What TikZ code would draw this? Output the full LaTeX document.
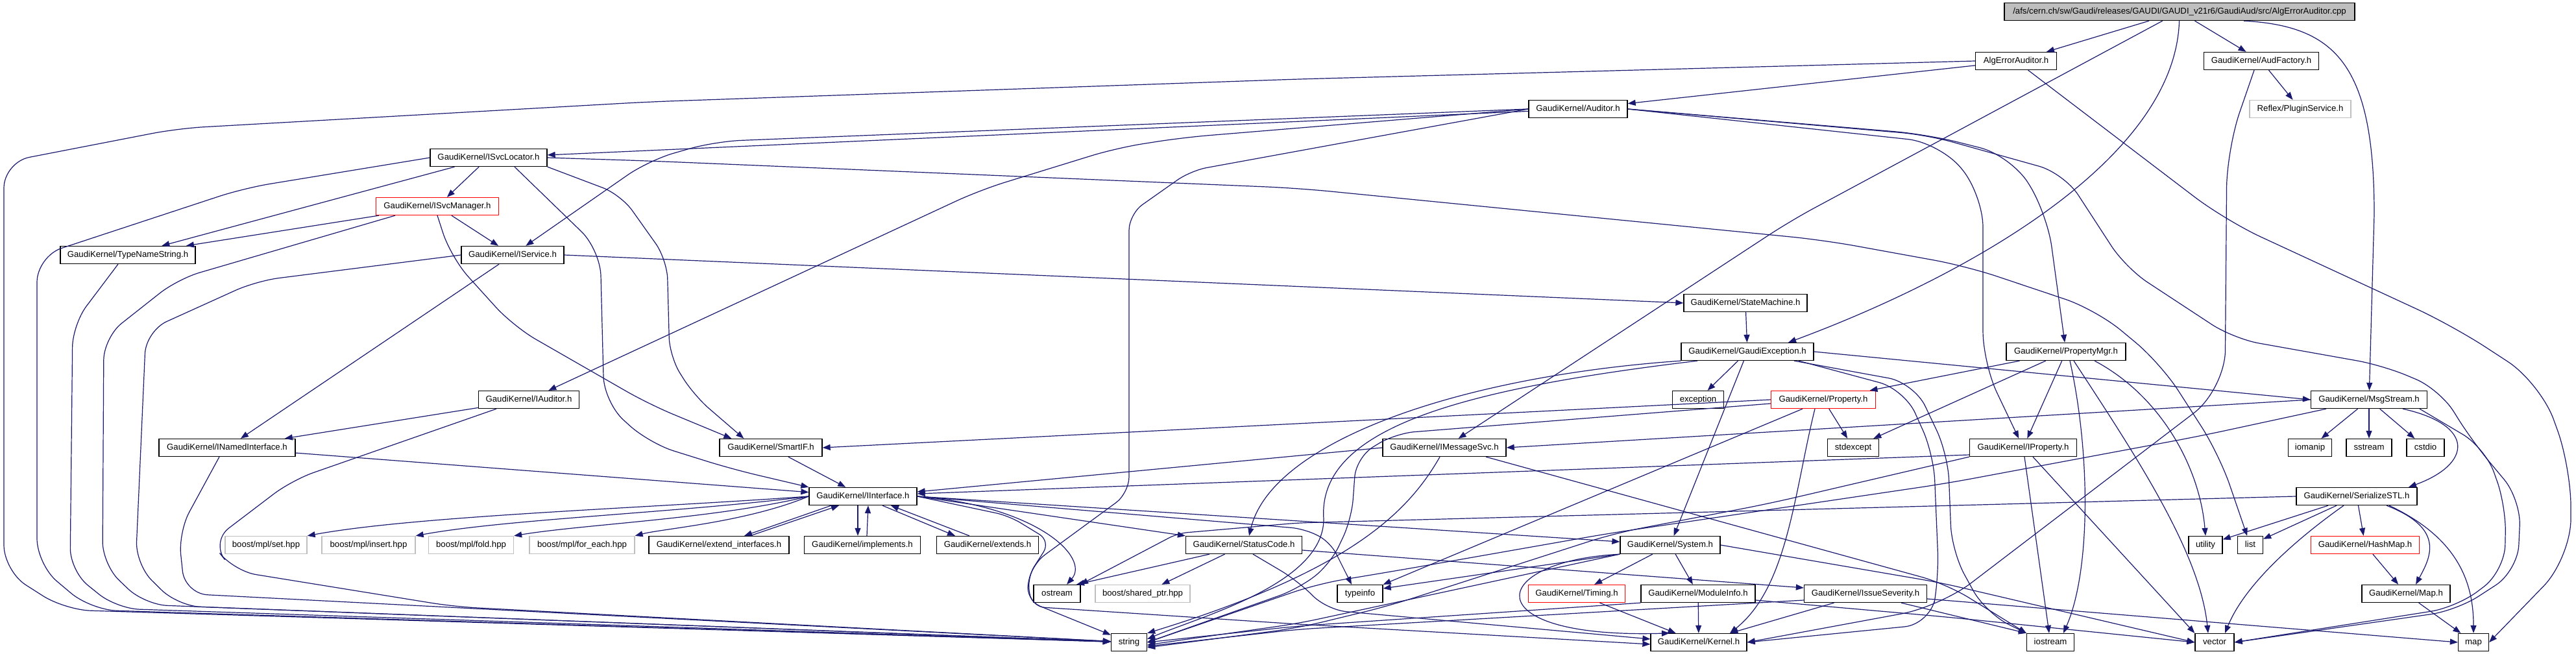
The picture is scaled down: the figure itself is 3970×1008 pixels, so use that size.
\documentclass[tikz,border=0pt]{standalone}
\usepackage{fontspec}
\newfontfamily\doxfont{Liberation Sans}
\usetikzlibrary{arrows.meta}
\definecolor{edgeblue}{RGB}{25,25,112}
\definecolor{extgray}{RGB}{191,191,191}

\begin{document}
\begin{tikzpicture}[x=1pt,y=-1pt,
 box/.style={draw,line width=1.3pt,fill=white,minimum height=27pt,inner xsep=2pt,inner ysep=0pt,
   text height=9.5pt,text depth=2.8pt,font=\doxfont\fontsize{13.2pt}{15pt}\selectfont},
 extbox/.style={box,draw=extgray},
 cutbox/.style={box,draw=red},
 rootbox/.style={box,fill=extgray},
 dep/.style={draw=edgeblue,line width=1.2pt,-{Triangle[length=12pt,width=9pt]}}]
\useasboundingbox (0,0) rectangle (3970,1008);

% files
\node[rootbox,minimum width=540pt] (root) at (3359,18) {/afs/cern.ch/sw/Gaudi/releases/GAUDI/GAUDI\_v21r6/GaudiAud/src/AlgErrorAuditor.cpp};
\node[box,minimum width=125pt] (aea) at (3107,94) {AlgErrorAuditor.h};
\node[box,minimum width=177pt] (audf) at (3485,94) {GaudiKernel/AudFactory.h};
\node[extbox,minimum width=156pt] (refl) at (3545,168) {Reflex/PluginService.h};
\node[box,minimum width=152pt] (aud) at (2432,168) {GaudiKernel/Auditor.h};
\node[box,minimum width=180pt] (svcloc) at (753,243) {GaudiKernel/ISvcLocator.h};
\node[cutbox,minimum width=189pt] (svcmgr) at (674,318) {GaudiKernel/ISvcManager.h};
\node[box,minimum width=208pt] (tns) at (197,393) {GaudiKernel/TypeNameString.h};
\node[box,minimum width=158pt] (isvc) at (790,393) {GaudiKernel/IService.h};
\node[box,minimum width=190pt] (sm) at (2690,467) {GaudiKernel/StateMachine.h};
\node[box,minimum width=204pt] (gexc) at (2693,542) {GaudiKernel/GaudiException.h};
\node[box,minimum width=184pt] (pmgr) at (3184,542) {GaudiKernel/PropertyMgr.h};
\node[box,minimum width=155pt] (iaud) at (815,616) {GaudiKernel/IAuditor.h};
\node[box,minimum width=79pt] (exc) at (2617,616) {exception};
\node[cutbox,minimum width=161pt] (prop) at (2810,616) {GaudiKernel/Property.h};
\node[box,minimum width=179pt] (msgs) at (3651,616) {GaudiKernel/MsgStream.h};
\node[box,minimum width=210pt] (inamed) at (350,690) {GaudiKernel/INamedInterface.h};
\node[box,minimum width=158pt] (smartif) at (1188,690) {GaudiKernel/SmartIF.h};
\node[box,minimum width=190pt] (imsg) at (2226,690) {GaudiKernel/IMessageSvc.h};
\node[box,minimum width=79pt] (stdexc) at (2856,690) {stdexcept};
\node[box,minimum width=165pt] (iprop) at (3118,690) {GaudiKernel/IProperty.h};
\node[box,minimum width=67pt] (iomanip) at (3560,690) {iomanip};
\node[box,minimum width=70pt] (sstr) at (3651,690) {sstream};
\node[box,minimum width=58pt] (cstdio) at (3738,690) {cstdio};
\node[box,minimum width=166pt] (iif) at (1330,765) {GaudiKernel/IInterface.h};
\node[box,minimum width=186pt] (ser) at (3632,765) {GaudiKernel/SerializeSTL.h};
\node[extbox,minimum width=126pt] (mplset) at (410,840) {boost/mpl/set.hpp};
\node[extbox,minimum width=144pt] (mplins) at (568,840) {boost/mpl/insert.hpp};
\node[extbox,minimum width=131pt] (mplfold) at (726,840) {boost/mpl/fold.hpp};
\node[extbox,minimum width=162pt] (mplfe) at (897,840) {boost/mpl/for\_each.hpp};
\node[box,minimum width=216pt] (extif) at (1108,840) {GaudiKernel/extend\_interfaces.h};
\node[box,minimum width=179pt] (impl) at (1329,840) {GaudiKernel/implements.h};
\node[box,minimum width=157pt] (ext) at (1522,840) {GaudiKernel/extends.h};
\node[box,minimum width=179pt] (sc) at (1917,840) {GaudiKernel/StatusCode.h};
\node[box,minimum width=154pt] (sys) at (2574,840) {GaudiKernel/System.h};
\node[box,minimum width=52pt] (util) at (3399,840) {utility};
\node[box,minimum width=39pt] (list) at (3468,840) {list};
\node[cutbox,minimum width=167pt] (hmap) at (3645,840) {GaudiKernel/HashMap.h};
\node[box,minimum width=72pt] (ostr) at (1629,915) {ostream};
\node[extbox,minimum width=146pt] (shptr) at (1761,915) {boost/shared\_ptr.hpp};
\node[box,minimum width=70pt] (tinfo) at (2096,915) {typeinfo};
\node[cutbox,minimum width=149pt] (timing) at (2430,915) {GaudiKernel/Timing.h};
\node[box,minimum width=176pt] (modinfo) at (2617,915) {GaudiKernel/ModuleInfo.h};
\node[box,minimum width=189pt] (issue) at (2875,915) {GaudiKernel/IssueSeverity.h};
\node[box,minimum width=136pt] (gmap) at (3708,915) {GaudiKernel/Map.h};
\node[box,minimum width=55pt] (str) at (1740,990) {string};
\node[box,minimum width=148pt] (kern) at (2618,990) {GaudiKernel/Kernel.h};
\node[box,minimum width=73pt] (iostr) at (3160,990) {iostream};
\node[box,minimum width=60pt] (vec) at (3413,990) {vector};
\node[box,minimum width=47pt] (map) at (3812,990) {map};

% AlgErrorAuditor.cpp
\draw[dep] (root) -- (aea);
\draw[dep] (root) -- (audf);
\draw[dep,rounded corners=40pt] (root) -- (2760,340) -- (imsg);
\draw[dep] (root) .. controls (3352,250) and (3020,430) .. ([xshift=63pt]gexc.north);
\draw[dep] ([xshift=99pt]root.south) .. controls (3600,40) and (3659,100) .. (3659,330) -- (msgs);
% AlgErrorAuditor.h
\draw[dep] (aea) -- (aud);
\draw[dep,rounded corners=40pt] (aea.west) -- (2000,122) -- (1000,157) -- (274,198) -- (6,250) -- (6,880) -- (100,940) -- (str);
\draw[dep,rounded corners=60pt] (aea) -- (3430,340) -- (3780,502) -- (3915,590) -- (3962,720) -- (3962,860) -- (map.east);
% AudFactory.h
\draw[dep] (audf) -- (refl);
\draw[dep,rounded corners=60pt] ([xshift=-11pt]audf.south) -- (3432,230) -- (3429,600) -- (2990,935) -- (kern.east);
% Auditor.h
\draw[dep] (aud) -- (svcloc);
\draw[dep,rounded corners=40pt] (aud.west) -- (1102,218) -- (1000,247) -- (isvc);
\draw[dep,rounded corners=40pt] (aud.west) -- (1823,212) -- (1721,228) -- (1510,293) -- (iaud);
\draw[dep,rounded corners=25pt] (aud.west) -- (1835,263) -- (1740,330) -- (1740,760) -- (1590,870) -- (1580,925) -- (str);
\draw[dep,rounded corners=50pt] (aud.east) -- (2990,220) -- (3056,300) -- (3056,560) -- (iprop);
\draw[dep,rounded corners=50pt] (aud.east) -- (2970,207) -- (3100,240) -- (3155,330) -- (pmgr);
\draw[dep,rounded corners=40pt] (aud.east) -- (2970,208) -- (3181,267) -- (3276,413) -- (3442,522) -- (3672,563) -- (3760,600) -- (3810,680) -- (3885,770) -- (3880,880) -- (3786,941) -- (vec.east);
% ISvcLocator.h
\draw[dep] (svcloc) -- (svcmgr);
\draw[dep] (svcloc) -- (tns);
\draw[dep,rounded corners=40pt] (svcloc.west) -- (376,290) -- (57,395) -- (57,870) -- (140,940) -- (str);
\draw[dep,rounded corners=40pt] ([xshift=40pt]svcloc.south) -- (925,385) -- (931,620) -- (1000,683) -- (1128,723) -- (iif.north west);
\draw[dep,rounded corners=30pt] (svcloc.south east) -- (957,300) -- (1028,400) -- (1032,550) -- (1070,610) -- ([xshift=38pt]smartif.north west);
\draw[dep,rounded corners=50pt] (svcloc.east) -- (1000,248) -- (2000,290) -- (2810,370) -- (3030,410) -- (3230,477) -- (3330,560) -- (3420,700) -- (list);
% ISvcManager.h
\draw[dep] (svcmgr) -- (tns);
\draw[dep] (svcmgr) -- (isvc);
\draw[dep,rounded corners=40pt] (svcmgr.south) -- (695,397) -- (791,503) -- (1000,623) -- ([xshift=19pt]smartif.north west);
\draw[dep,rounded corners=35pt] ([xshift=-65pt]svcmgr.south) -- (274,430) -- (160,520) -- (158,870) -- (223,932) -- (str);
\draw[dep,rounded corners=35pt] ([xshift=-15pt]tns.south) -- (112,500) -- (108,880) -- (180,938) -- (str);
% IService.h, IAuditor.h, INamedInterface.h
\draw[dep] (isvc.east) -- (sm.west);
\draw[dep] (isvc) -- (inamed);
\draw[dep,rounded corners=35pt] (isvc.west) -- (395,433) -- (225,510) -- (209,870) -- (274,934) -- (str);
\draw[dep] (iaud) -- (inamed);
\draw[dep,rounded corners=35pt] ([xshift=-50pt]iaud.south) -- (450,740) -- (325,835) -- (360,880) -- (700,935) -- (str);
\draw[dep] (inamed) -- (iif);
\draw[dep,rounded corners=35pt] ([xshift=-12pt]inamed.south) -- (275,820) -- (285,915) -- (str);
\draw[dep] (smartif) -- (iif);
% IInterface.h
\draw[dep] (iif.west) .. controls (1000,783) and (640,795) .. (mplset.north east);
\draw[dep] (iif.west) .. controls (1050,790) and (780,800) .. (mplins.north east);
\draw[dep] (iif.west) .. controls (1100,800) and (900,808) .. (mplfold.north east);
\draw[dep] (iif.west) .. controls (1150,805) and (1020,815) .. (mplfe.north east);
\draw[dep] ([xshift=-49pt]iif.south) -- ([xshift=39pt]extif.north);
\draw[dep] ([xshift=48pt]extif.north) -- ([xshift=-37pt]iif.south);
\draw[dep] ([xshift=-8pt]iif.south) -- ([xshift=-7pt]impl.north);
\draw[dep] ([xshift=7pt]impl.north) -- ([xshift=8pt]iif.south);
\draw[dep] ([xshift=30pt]iif.south) -- ([xshift=-50pt]ext.north);
\draw[dep] ([xshift=-28pt]ext.north) -- ([xshift=43pt]iif.south);
\draw[dep] (iif.east) .. controls (1600,780) and (1680,860) .. ([xshift=15pt]ostr.north);
\draw[dep] (iif.east) -- (sc.north west);
\draw[dep] (iif.east) -- ([yshift=5pt]sys.west);
\draw[dep,rounded corners=20pt] (iif.east) -- (2010,815) -- (2050,835) -- ([xshift=-13pt]tinfo.north);
\draw[dep,rounded corners=20pt] (iif.east) -- (1555,795) -- (1619,834) -- (1583,890) -- (1590,935) -- (2000,962) -- ([yshift=-3pt]kern.west);
% StatusCode.h
\draw[dep] ([xshift=-53pt]sc.south) -- ([xshift=30pt]ostr.north);
\draw[dep] (sc) -- (shptr);
\draw[dep] ([yshift=-8pt]sc.east) -- ([yshift=9pt]issue.west);
\draw[dep,rounded corners=30pt] ([xshift=14pt]sc.south) -- (2000,895) -- (2045,940) -- ([yshift=5pt]kern.west);
% System.h
\draw[dep] (sys) -- (timing);
\draw[dep] (sys) -- (modinfo);
\draw[dep] (sys.south west) -- ([yshift=8pt]tinfo.east);
\draw[dep] (sys.south west) .. controls (2290,865) and (2270,985) .. ([xshift=-45pt]kern.north);
\draw[dep,rounded corners=30pt] (sys.south west) -- (2000,961) -- ([yshift=-4pt]str.east);
\draw[dep,rounded corners=30pt] (sys.east) -- (2990,898) -- (vec.west);
% Timing.h, ModuleInfo.h, IssueSeverity.h
\draw[dep] (timing) -- (kern);
\draw[dep] (modinfo) -- (kern);
\draw[dep,rounded corners=30pt] (modinfo.south west) -- (2000,965) -- (str.east);
\draw[dep,rounded corners=30pt] ([yshift=-10pt]modinfo.east) -- (3000,951) -- (vec.west);
\draw[dep] (issue) -- (kern);
\draw[dep,rounded corners=30pt] ([yshift=-10pt]issue.west) -- (2000,970) -- ([yshift=-6pt]str.east);
\draw[dep] ([yshift=-8pt]issue.east) -- (map.west);
\draw[dep] ([xshift=55pt]issue.south) -- (iostr.north west);
% IMessageSvc.h
\draw[dep] (imsg.west) -- ([yshift=7pt]iif.east);
\draw[dep] ([xshift=-7pt]imsg.south) .. controls (2170,790) and (2080,880) .. (str.north east);
\draw[dep,rounded corners=40pt] ([xshift=64pt]imsg.south) -- (3000,900) -- (iostr.north west);
% GaudiException.h
\draw[dep] (sm) -- (gexc);
\draw[dep] (gexc) -- (exc);
\draw[dep] (gexc) -- (sys);
\draw[dep] (gexc.east) -- (msgs.west);
\draw[dep] (gexc.south west) .. controls (2250,580) and (1960,680) .. ([xshift=8pt]sc.north);
\draw[dep] ([xshift=-77pt]gexc.south) .. controls (2250,600) and (2030,660) .. (2040,800) .. controls (2040,900) and (1850,950) .. ([yshift=5pt]str.east);
\draw[dep,rounded corners=40pt] ([xshift=79pt]gexc.south) -- (2935,600) -- (2980,700) -- (2988,890) -- (2975,962) -- (kern.east);
\draw[dep,rounded corners=40pt] ([xshift=72pt]gexc.south) -- (2950,590) -- (3002,700) -- (3008,850) -- (3060,945) -- (iostr.north west);
% PropertyMgr.h
\draw[dep] (pmgr) -- (prop);
\draw[dep] (pmgr) -- (stdexc);
\draw[dep] (pmgr) -- (iprop);
\draw[dep] ([xshift=6pt]pmgr.south) .. controls (3222,700) and (3222,880) .. ([xshift=20pt]iostr.north);
\draw[dep] ([xshift=12pt]pmgr.south) .. controls (3290,700) and (3390,850) .. ([xshift=-10pt]vec.north);
\draw[dep] ([xshift=44pt]pmgr.south) .. controls (3330,610) and (3390,720) .. (util.north);
% Property.h
\draw[dep] (prop) -- (stdexc);
\draw[dep] ([xshift=-13pt]prop.south) .. controls (2765,760) and (2755,905) .. ([xshift=48pt]kern.north);
\draw[dep] ([xshift=-32pt]prop.south) -- (tinfo.north east);
\draw[dep] (prop.west) -- (smartif.east);
\draw[dep,rounded corners=30pt] ([yshift=-6pt]prop.west) -- (2150,668) -- (2090,705) -- (2083,800) -- (2050,870) -- (2000,908) -- (str.east);
% IProperty.h
\draw[dep] ([yshift=-11pt]iprop.west) -- ([yshift=4pt]iif.east);
\draw[dep,rounded corners=40pt] (iprop.south west) -- (2727,776) -- (2488,822) -- (2140,934) -- (2000,968) -- ([yshift=-8pt]str.east);
\draw[dep] (iprop) -- (iostr);
\draw[dep] ([xshift=15pt]iprop.south) -- (vec.north west);
% MsgStream.h
\draw[dep] (msgs.west) -- (imsg.east);
\draw[dep] (msgs) -- (iomanip);
\draw[dep] (msgs) -- (sstr);
\draw[dep] (msgs) -- (cstdio);
\draw[dep] ([xshift=52pt]msgs.south) .. controls (3815,655) and (3810,715) .. ([xshift=80pt]ser.north);
\draw[dep,rounded corners=40pt] ([xshift=78pt]msgs.south) -- (3830,690) -- (3862,780) -- (3860,880) -- (3786,936) -- (vec.east);
\draw[dep,rounded corners=40pt] ([xshift=-66pt]msgs.south) -- (3391,672) -- (3000,745) -- (2480,822) -- (2150,880) -- (2030,900) -- (str.east);
% SerializeSTL.h
\draw[dep,rounded corners=15pt] (ser.west) -- (2000,806) -- (1815,822) -- ([xshift=36pt]ostr.north);
\draw[dep] (ser) -- (util);
\draw[dep] (ser) -- (list);
\draw[dep] (ser) .. controls (3540,830) and (3460,900) .. ([xshift=16pt]vec.north);
\draw[dep] (ser) -- (hmap);
\draw[dep] ([xshift=46pt]ser.south) .. controls (3770,815) and (3745,860) .. ([xshift=15pt]gmap.north);
\draw[dep] ([xshift=50pt]ser.south) .. controls (3790,830) and (3812,900) .. (map.north);
\draw[dep] (hmap) -- (gmap);
\draw[dep] (gmap) -- (map);
\end{tikzpicture}
\end{document}
